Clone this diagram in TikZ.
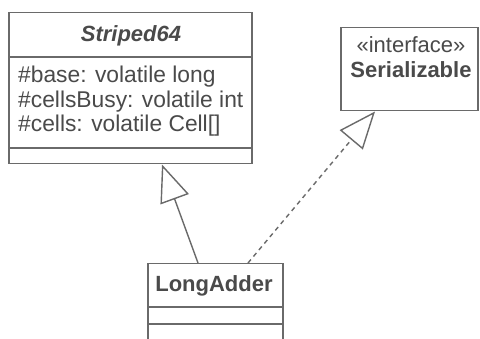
\documentclass[tikz,border=0pt]{standalone}
\usepackage{fontspec}
\setmainfont{Liberation Sans}
\usetikzlibrary{arrows.meta}
\definecolor{lnc}{HTML}{6A6A6A}
\definecolor{txc}{HTML}{4A4A4A}
\begin{document}
\begin{tikzpicture}[x=1pt,y=-1pt,
  box/.style={draw=lnc,line width=1.5pt,rectangle,inner sep=0pt,anchor=north west},
  lbl/.style={inner sep=0pt,text=txc,font=\fontsize{22}{25}\selectfont},
  attr/.style={lbl,anchor=base west,font=\fontsize{22.8}{25}\selectfont},
  sep/.style={draw=lnc,line width=1.5pt},
  gen/.style={draw=lnc,line width=1.4pt,-{Triangle[open,length=37pt,width=30pt,fill=white]}},
  real/.style={gen,dash pattern=on 4.5pt off 4pt}]
\useasboundingbox (0,0) rectangle (480,339);
\clip (0,0) rectangle (480,339);
\fill[white] (0,0) rectangle (480,339);
% boxes
\node[box,minimum width=243pt,minimum height=151pt] (st) at (8,12) {};
\node[box,minimum width=137pt,minimum height=83pt] (se) at (340,27) {};
\node[box,minimum width=135pt,minimum height=90pt] (la) at (147,263) {};
% separators
\draw[sep] (8,57) -- (251,57);
\draw[sep] (8,148) -- (251,148);
\draw[sep] (147,307) -- (282,307);
\draw[sep] (147,324) -- (282,324);
% texts
\node[lbl,anchor=base,font=\fontsize{22}{25}\selectfont\bfseries\itshape] (t1) at (131,42) {Striped64};
\node[attr] (a1) at (18,83) {\#base: volatile long};
\node[attr] (a2) at (18,108) {\#cellsBusy: volatile int};
\node[attr] (a3) at (18,132) {\#cells: volatile Cell[]};
\node[lbl,anchor=base] (t2) at (411,53) {«interface»};
\node[lbl,anchor=base,font=\fontsize{22}{25}\selectfont\bfseries] (t3) at (411,78) {Serializable};
\node[lbl,anchor=base,font=\fontsize{22}{25}\selectfont\bfseries] (t4) at (214,292) {LongAdder};
% connectors
\draw[gen] ([xshift=51pt]la.north west) -- ([xshift=154pt]st.south west);
\draw[real] ([xshift=101pt]la.north west) -- ([xshift=35pt]se.south west);
\end{tikzpicture}
\end{document}
